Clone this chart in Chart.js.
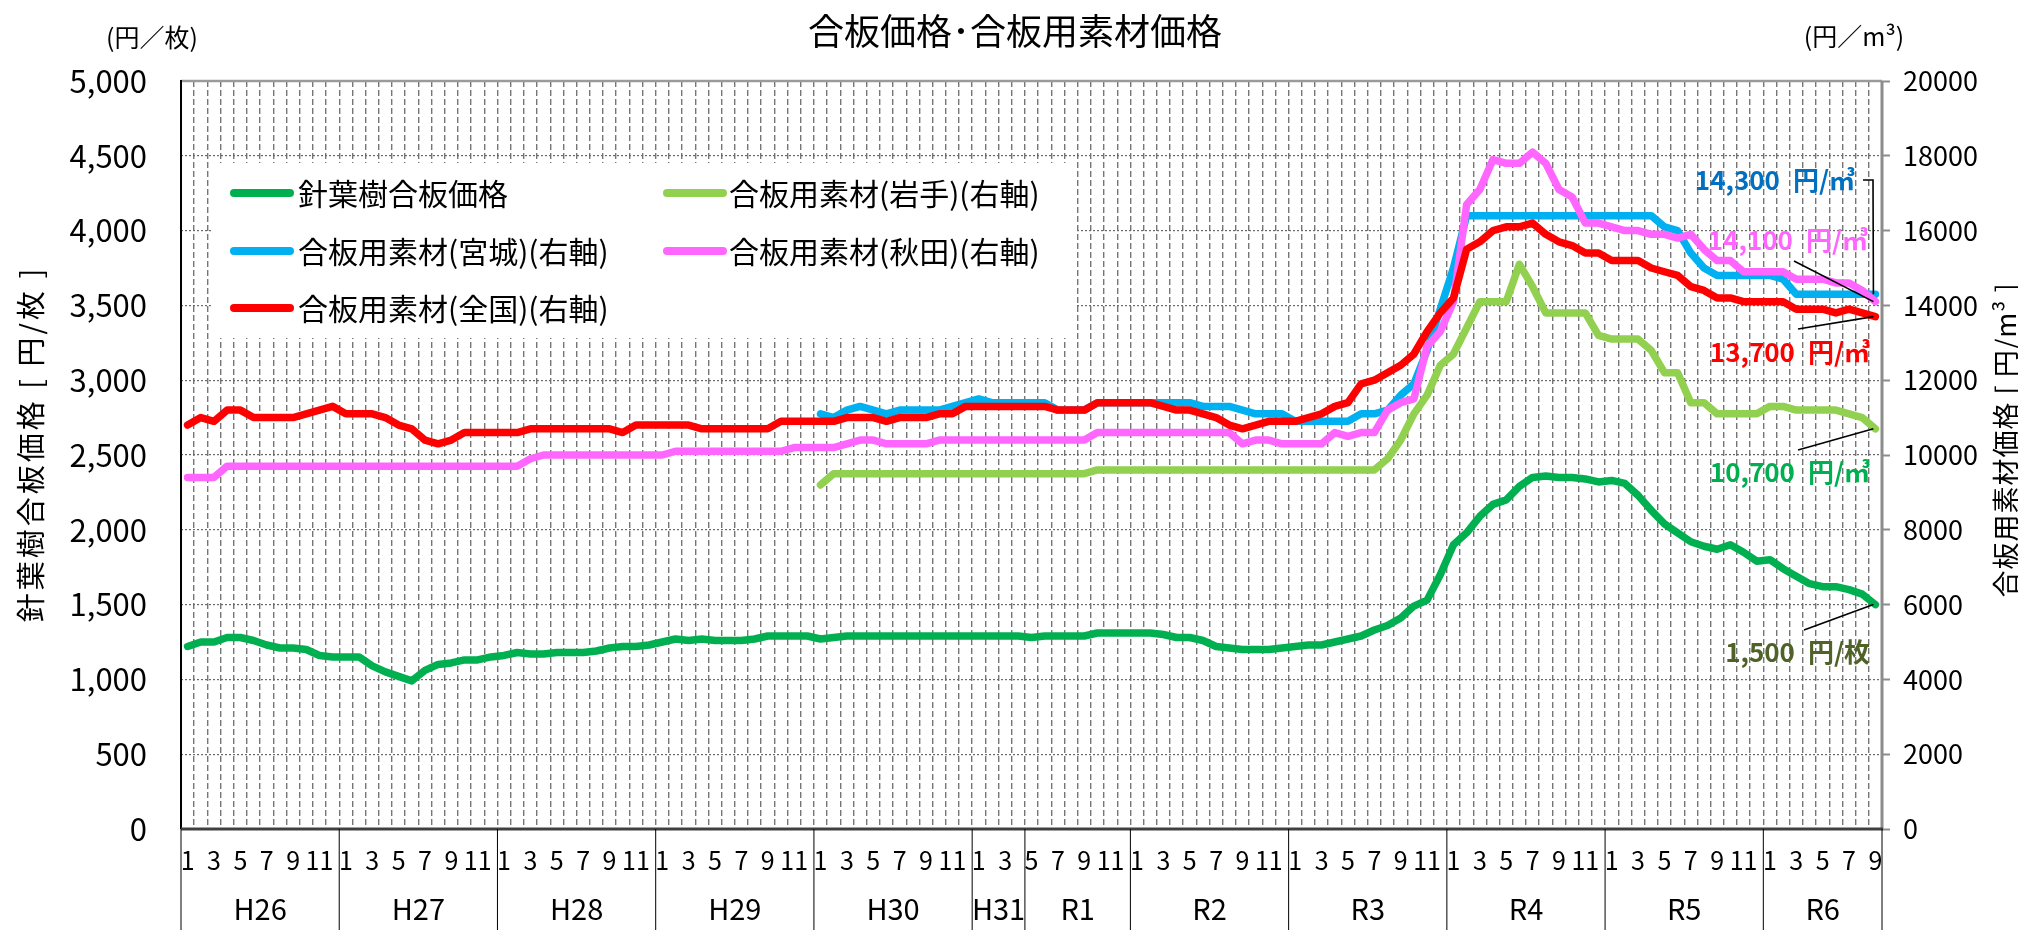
<!DOCTYPE html>
<html lang="ja">
<head>
<meta charset="utf-8">
<title>合板価格・合板用素材価格</title>
<script src="https://cdn.jsdelivr.net/npm/chart.js@4.4.1/dist/chart.umd.min.js"></script>
<style>
  html, body { margin: 0; padding: 0; background: #fff; }
  #quadro { width: 2018px; height: 930px; }
</style>
</head>
<body>
<div id="quadro"><canvas id="grafico" width="2018" height="930"></canvas></div>
<script>
// 年度区分（和暦）と各区分の月
const eras = ['H26', 'H27', 'H28', 'H29', 'H30', 'H31', 'R1', 'R2', 'R3', 'R4', 'R5', 'R6'];
const eraFirstMonth = [1, 1, 1, 1, 1, 1, 5, 1, 1, 1, 1, 1];
const eraMonthCount = [12, 12, 12, 12, 12, 4, 8, 12, 12, 12, 12, 9];

const monthLabels = [];
eras.forEach((e, k) => {
    for (let m = 0; m < eraMonthCount[k]; m++) monthLabels.push(String(eraFirstMonth[k] + m));
});

// 針葉樹合板価格（円/枚、左軸）
const shinyojuGoban = [
    1220, 1250, 1250, 1280, 1280, 1260, 1230, 1210, 1210, 1200, 1160, 1150,
    1150, 1150, 1090, 1050, 1020, 990, 1060, 1100, 1110, 1130, 1130, 1150,
    1160, 1180, 1170, 1170, 1180, 1180, 1180, 1190, 1210, 1220, 1220, 1230,
    1250, 1270, 1260, 1270, 1260, 1260, 1260, 1270, 1290, 1290, 1290, 1290,
    1270, 1280, 1290, 1290, 1290, 1290, 1290, 1290, 1290, 1290, 1290, 1290,
    1290, 1290, 1290, 1290, 1280, 1290, 1290, 1290, 1290, 1310, 1310, 1310,
    1310, 1310, 1300, 1280, 1280, 1260, 1220, 1210, 1200, 1200, 1200, 1210,
    1220, 1230, 1230, 1250, 1270, 1290, 1330, 1360, 1410, 1490, 1530, 1700,
    1900, 1980, 2090, 2170, 2200, 2290, 2350, 2360, 2350, 2350, 2340, 2320,
    2330, 2310, 2230, 2130, 2040, 1980, 1920, 1890, 1870, 1900, 1850, 1790,
    1800, 1740, 1690, 1640, 1620, 1620, 1600, 1570, 1500
];

// 合板用素材価格（円/m3、右軸）
const sozaiIwate = [
    null, null, null, null, null, null, null, null, null, null, null, null,
    null, null, null, null, null, null, null, null, null, null, null, null,
    null, null, null, null, null, null, null, null, null, null, null, null,
    null, null, null, null, null, null, null, null, null, null, null, null,
    9200, 9500, 9500, 9500, 9500, 9500, 9500, 9500, 9500, 9500, 9500, 9500,
    9500, 9500, 9500, 9500, 9500, 9500, 9500, 9500, 9500, 9600, 9600, 9600,
    9600, 9600, 9600, 9600, 9600, 9600, 9600, 9600, 9600, 9600, 9600, 9600,
    9600, 9600, 9600, 9600, 9600, 9600, 9600, 9900, 10400, 11100, 11600, 12400,
    12700, 13400, 14100, 14100, 14100, 15100, 14500, 13800, 13800, 13800, 13800, 13200,
    13100, 13100, 13100, 12800, 12200, 12200, 11400, 11400, 11100, 11100, 11100, 11100,
    11300, 11300, 11200, 11200, 11200, 11200, 11100, 11000, 10700
];

const sozaiMiyagi = [
    null, null, null, null, null, null, null, null, null, null, null, null,
    null, null, null, null, null, null, null, null, null, null, null, null,
    null, null, null, null, null, null, null, null, null, null, null, null,
    null, null, null, null, null, null, null, null, null, null, null, null,
    11100, 11000, 11200, 11300, 11200, 11100, 11200, 11200, 11200, 11200, 11300, 11400,
    11500, 11400, 11400, 11400, 11400, 11400, 11200, 11200, 11200, 11400, 11400, 11400,
    11400, 11400, 11400, 11400, 11400, 11300, 11300, 11300, 11200, 11100, 11100, 11100,
    10900, 10900, 10900, 10900, 10900, 11100, 11100, 11200, 11600, 11900, 12800, 13900,
    15000, 16400, 16400, 16400, 16400, 16400, 16400, 16400, 16400, 16400, 16400, 16400,
    16400, 16400, 16400, 16400, 16100, 16000, 15400, 15000, 14800, 14800, 14800, 14800,
    14800, 14700, 14300, 14300, 14300, 14300, 14300, 14300, 14300
];

const sozaiAkita = [
    9400, 9400, 9400, 9700, 9700, 9700, 9700, 9700, 9700, 9700, 9700, 9700,
    9700, 9700, 9700, 9700, 9700, 9700, 9700, 9700, 9700, 9700, 9700, 9700,
    9700, 9700, 9900, 10000, 10000, 10000, 10000, 10000, 10000, 10000, 10000, 10000,
    10000, 10100, 10100, 10100, 10100, 10100, 10100, 10100, 10100, 10100, 10200, 10200,
    10200, 10200, 10300, 10400, 10400, 10300, 10300, 10300, 10300, 10400, 10400, 10400,
    10400, 10400, 10400, 10400, 10400, 10400, 10400, 10400, 10400, 10600, 10600, 10600,
    10600, 10600, 10600, 10600, 10600, 10600, 10600, 10600, 10300, 10400, 10400, 10300,
    10300, 10300, 10300, 10600, 10500, 10600, 10600, 11200, 11400, 11500, 12900, 13300,
    14100, 16700, 17100, 17900, 17800, 17800, 18100, 17800, 17100, 16900, 16200, 16200,
    16100, 16000, 16000, 15900, 15900, 15800, 15900, 15500, 15200, 15200, 14900, 14900,
    14900, 14900, 14700, 14700, 14700, 14600, 14600, 14400, 14100
];

const sozaiZenkoku = [
    10800, 11000, 10900, 11200, 11200, 11000, 11000, 11000, 11000, 11100, 11200, 11300,
    11100, 11100, 11100, 11000, 10800, 10700, 10400, 10300, 10400, 10600, 10600, 10600,
    10600, 10600, 10700, 10700, 10700, 10700, 10700, 10700, 10700, 10600, 10800, 10800,
    10800, 10800, 10800, 10700, 10700, 10700, 10700, 10700, 10700, 10900, 10900, 10900,
    10900, 10900, 11000, 11000, 11000, 10900, 11000, 11000, 11000, 11100, 11100, 11300,
    11300, 11300, 11300, 11300, 11300, 11300, 11200, 11200, 11200, 11400, 11400, 11400,
    11400, 11400, 11300, 11200, 11200, 11100, 11000, 10800, 10700, 10800, 10900, 10900,
    10900, 11000, 11100, 11300, 11400, 11900, 12000, 12200, 12400, 12700, 13300, 13800,
    14200, 15500, 15700, 16000, 16100, 16100, 16200, 15900, 15700, 15600, 15400, 15400,
    15200, 15200, 15200, 15000, 14900, 14800, 14500, 14400, 14200, 14200, 14100, 14100,
    14100, 14100, 13900, 13900, 13900, 13800, 13900, 13800, 13700
];

const seriesNames = ['針葉樹合板価格', '合板用素材(岩手)(右軸)', '合板用素材(宮城)(右軸)', '合板用素材(秋田)(右軸)', '合板用素材(全国)(右軸)'];
const seriesColors = ['#00B050', '#92D050', '#00B0F0', '#FF66FF', '#FF0000'];

const NARROW = "'Liberation Sans Narrow', 'Noto Sans CJK JP', sans-serif";
const JP = "'Noto Sans CJK JP', sans-serif";

// 凡例パネルと各項目の位置
const legendBox = { x: 212, y: 163, w: 865, h: 175 };
const legendCols = [{ line: 234, text: 298 }, { line: 667, text: 729 }];
const legendRows = [193, 251, 308];
const legendSlots = [[0, 0], [1, 0], [0, 1], [1, 1], [0, 2]];

// 最終月の値ラベル（引出線つき）
const callouts = [
    { ds: 2, unit: '\u2002円/㎥', color: '#0070C0', tx: 1855, ty: 180, path: [[1863, 180], [1873, 180]] },
    { ds: 3, unit: '\u2002円/㎥', color: '#FF66FF', tx: 1868, ty: 240, path: [[1794, 261]] },
    { ds: 4, unit: '\u2002円/㎥', color: '#FF0000', tx: 1870, ty: 352, path: [[1798, 329]] },
    { ds: 1, unit: '\u2002円/㎥', color: '#00B050', tx: 1870, ty: 472, path: [[1798, 450]] },
    { ds: 0, unit: '\u2002円/枚', color: '#4F6228', tx: 1870, ty: 652, path: [[1804, 630]] }
];

function traco(ctx, x1, y1, x2, y2, cor, larg) {
    ctx.beginPath();
    ctx.strokeStyle = cor;
    ctx.lineWidth = larg;
    ctx.moveTo(x1, y1);
    ctx.lineTo(x2, y2);
    ctx.stroke();
}

const decor = {
    id: 'decor',
    beforeDatasetsDraw(chart) {
        const { ctx, chartArea: a } = chart;
        ctx.save();
        ctx.fillStyle = '#fff';
        ctx.fillRect(legendBox.x, legendBox.y, legendBox.w, legendBox.h);
        traco(ctx, a.left, a.top, a.right, a.top, '#9a9a9a', 2.5);
        traco(ctx, a.right, a.top, a.right, a.bottom, '#8c8c8c', 3);
        traco(ctx, a.left, a.top - 1, a.left, a.bottom, '#000', 2);
        traco(ctx, a.left, a.bottom, a.right + 1, a.bottom, '#404040', 3);
        ctx.restore();
    },
    afterDatasetsDraw(chart) {
        const { ctx } = chart;
        ctx.save();
        // 凡例
        ctx.textBaseline = 'middle';
        ctx.textAlign = 'left';
        ctx.font = '30px ' + JP;
        legendSlots.forEach(([c, r], i) => {
            const y = legendRows[r];
            ctx.lineCap = 'round';
            traco(ctx, legendCols[c].line, y, legendCols[c].line + 56, y, seriesColors[i], 8);
            ctx.fillStyle = '#000';
            ctx.fillText(seriesNames[i], legendCols[c].text, y + 1);
        });
        ctx.lineCap = 'butt';
        // 値ラベル
        callouts.forEach(c => {
            const ds = chart.data.datasets[c.ds].data;
            const last = ds[ds.length - 1];
            const pt = chart.getDatasetMeta(c.ds).data[ds.length - 1];
            ctx.font = 'bold 26px ' + NARROW;
            ctx.textAlign = 'right';
            ctx.fillStyle = c.color;
            ctx.fillText(last.toLocaleString('en-US') + c.unit, c.tx, c.ty);
            ctx.beginPath();
            ctx.strokeStyle = '#000';
            ctx.lineWidth = 1.6;
            ctx.moveTo(c.path[0][0], c.path[0][1]);
            c.path.slice(1).forEach(p => ctx.lineTo(p[0], p[1]));
            ctx.lineTo(pt.x - 2, pt.y);
            ctx.stroke();
        });
        ctx.restore();
    },
    afterDraw(chart) {
        const { ctx, chartArea: a } = chart;
        const xs = chart.scales.x;
        ctx.save();
        ctx.fillStyle = '#000';
        ctx.textBaseline = 'middle';
        ctx.textAlign = 'center';
        ctx.font = '36px ' + JP;
        ctx.fillText('合板価格･合板用素材価格', 1015, 31);
        ctx.font = '25px ' + JP;
        ctx.fillText('(円／枚)', 152, 37);
        ctx.fillText('(円／m³)', 1854, 36);

        // 軸タイトル（縦書き）
        ctx.save();
        ctx.translate(31, 444);
        ctx.rotate(-Math.PI / 2);
        ctx.font = '29px ' + JP;
        ctx.letterSpacing = '3px';
        ctx.fillText('針葉樹合板価格 [ 円/枚 ]', 0, 0);
        ctx.restore();
        ctx.save();
        ctx.translate(2006, 440);
        ctx.rotate(-Math.PI / 2);
        ctx.font = '27px ' + JP;
        ctx.letterSpacing = '1px';
        ctx.fillText('合板用素材価格 [ 円/m³ ]', 0, 0);
        ctx.restore();

        // 年度の区切りと年度名
        const half = (xs.getPixelForValue(1) - xs.getPixelForValue(0)) / 2;
        let idx = 0;
        ctx.font = '29px ' + NARROW;
        eras.forEach((e, k) => {
            const x0 = xs.getPixelForValue(idx) - half;
            const x1 = xs.getPixelForValue(idx + eraMonthCount[k] - 1) + half;
            traco(ctx, x0, a.bottom, x0, chart.height, '#000', 1);
            if (k === eras.length - 1) traco(ctx, x1, a.bottom, x1, chart.height, '#000', 1);
            ctx.fillStyle = '#000';
            ctx.fillText(e, (x0 + x1) / 2, 909);
            idx += eraMonthCount[k];
        });
        ctx.restore();
    }
};

const ordem = [5, 4, 3, 2, 1];
const valores = [shinyojuGoban, sozaiIwate, sozaiMiyagi, sozaiAkita, sozaiZenkoku];

new Chart(document.getElementById('grafico'), {
    type: 'line',
    data: {
        labels: monthLabels,
        datasets: valores.map((v, i) => ({
            label: seriesNames[i],
            data: v,
            yAxisID: i === 0 ? 'y' : 'y2',
            borderColor: seriesColors[i],
            backgroundColor: seriesColors[i],
            borderWidth: 7.5,
            borderJoinStyle: 'round',
            borderCapStyle: 'round',
            pointRadius: 0,
            tension: 0,
            fill: false,
            order: ordem[i]
        }))
    },
    options: {
        responsive: false,
        animation: false,
        devicePixelRatio: 1,
        layout: { padding: { top: 81, left: 0, right: 0, bottom: 0 } },
        plugins: {
            legend: { display: false },
            title: { display: false },
            tooltip: { enabled: false }
        },
        scales: {
            x: {
                type: 'category',
                offset: true,
                grid: { offset: true, color: '#767676', lineWidth: 1.4, drawTicks: false },
                border: { display: false, dash: [6, 3] },
                ticks: {
                    autoSkip: false,
                    maxRotation: 0,
                    minRotation: 0,
                    padding: 16,
                    color: '#000',
                    font: { family: NARROW, size: 25 },
                    callback: (v, i) => (Number(monthLabels[i]) % 2 === 1 ? monthLabels[i] : '')
                },
                afterFit: s => { s.height = 101; }
            },
            y: {
                position: 'left',
                min: 0,
                max: 5000,
                grid: { color: '#6a6a6a', lineWidth: 1.2, drawTicks: false },
                border: { display: false, dash: [2, 2] },
                ticks: {
                    stepSize: 500,
                    padding: 34,
                    color: '#000',
                    font: { family: NARROW, size: 31 },
                    callback: v => v.toLocaleString('en-US')
                },
                afterFit: s => { s.width = 181; }
            },
            y2: {
                position: 'right',
                min: 0,
                max: 20000,
                grid: { drawOnChartArea: false, drawTicks: true, tickLength: 8, tickColor: '#8c8c8c', tickWidth: 2 },
                border: { display: false },
                ticks: {
                    stepSize: 2000,
                    padding: 13,
                    color: '#000',
                    font: { family: NARROW, size: 27 },
                    callback: v => String(v)
                },
                afterFit: s => { s.width = 136; }
            }
        }
    },
    plugins: [decor]
});
</script>
</body>
</html>
